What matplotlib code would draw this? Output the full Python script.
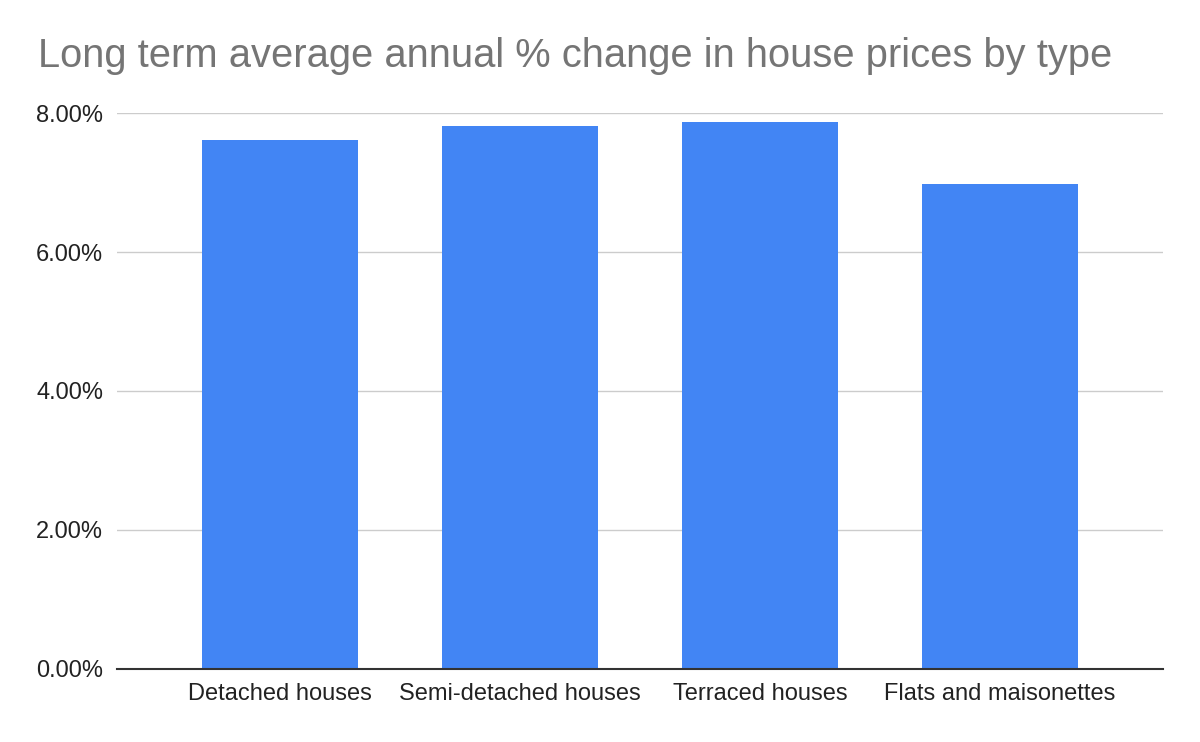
import numpy as np
import matplotlib.pyplot as plt
from matplotlib.ticker import FuncFormatter

# data
categories = ["Detached houses", "Semi-detached houses", "Terraced houses", "Flats and maisonettes"]
pct_change = [7.61, 7.82, 7.87, 6.98]
yticks = [0, 2, 4, 6, 8]

plt.rcParams['font.family'] = ['Liberation Sans', 'DejaVu Sans']

fig = plt.figure(figsize=(12, 7.42), dpi=100)
ax = fig.add_axes([0.0975, 0.0984, 0.8717, 0.7493])

x = np.arange(len(categories))
ax.bar(x, pct_change, width=0.65, color='#4285F4', zorder=3)

ax.set_xlim(-0.679, len(categories) - 1 + 0.679)
ax.set_ylim(0, 8)
ax.set_yticks(yticks)
ax.yaxis.set_major_formatter(FuncFormatter(lambda v, p: f"{v:.2f}%"))
ax.set_xticks(x)
ax.set_xticklabels(categories)

ax.grid(axis='y', color='#cccccc', linewidth=1, zorder=0)
for s in ['top', 'right', 'left']:
    ax.spines[s].set_visible(False)
ax.spines['bottom'].set_color('#333333')
ax.spines['bottom'].set_linewidth(1.5)
ax.spines['bottom'].set_zorder(4)

ax.tick_params(axis='y', length=0, pad=10, labelsize=17, labelcolor='#222222')
ax.tick_params(axis='x', length=0, pad=10, labelsize=17, labelcolor='#222222')

fig.text(38 / 1200, 1 - 56 / 742, "Long term average annual % change in house prices by type",
         fontsize=28.7, color='#757575', ha='left', va='center')

fig.savefig("out.png", dpi=100)
